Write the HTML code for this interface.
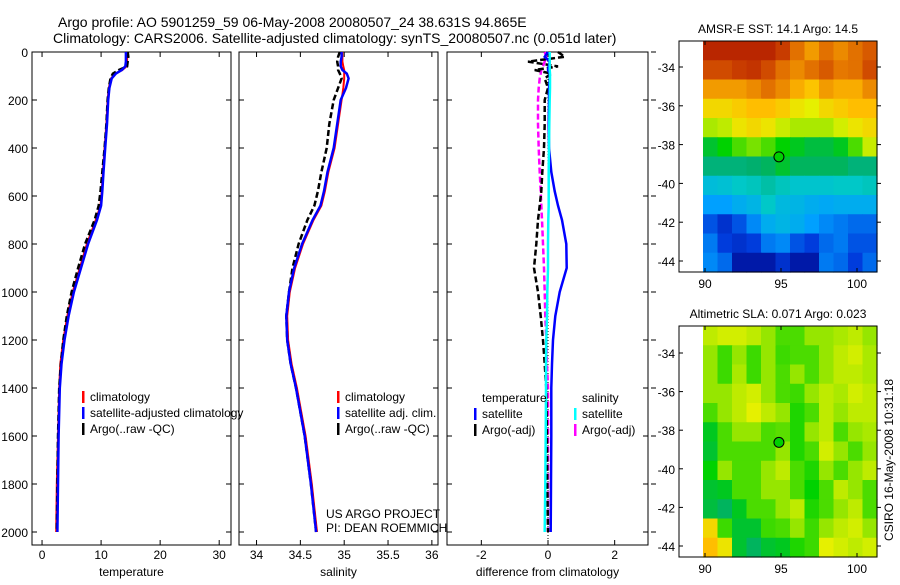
<!DOCTYPE html>
<html><head><meta charset="utf-8"><style>
body{margin:0;background:#fff;}
svg text{font-family:"Liberation Sans",sans-serif;}
</style></head><body>
<svg id="fig" width="900" height="580" viewBox="0 0 900 580" xmlns="http://www.w3.org/2000/svg">
<rect width="900" height="580" fill="#fff"/>
<text x="58" y="27" font-size="14">Argo profile: AO 5901259_59 06-May-2008 20080507_24 38.631S 94.865E</text>
<text x="53" y="43" font-size="14">Climatology: CARS2006. Satellite-adjusted climatology: synTS_20080507.nc (0.051d later)</text>
<g id="plots"></g>
<text transform="translate(893,460) rotate(-90)" font-size="12" text-anchor="middle">CSIRO 16-May-2008 10:31:18</text>
</svg>
<script>
// ---- profile data ----
const depths = [0,20,40,60,75,90,110,150,200,300,400,500,580,640,700,800,900,1000,1100,1200,1300,1400,1600,1800,2000];
const tempSat = [14.2,14.2,14.2,14.1,13.5,12.5,11.8,11.4,11.2,11.0,10.7,10.4,10.2,10.0,9.3,7.8,6.6,5.4,4.5,3.8,3.3,3.0,2.8,2.7,2.6];
const tempClim = [14.4,14.4,14.4,14.3,13.6,12.4,11.7,11.3,11.1,10.9,10.6,10.3,10.1,9.9,9.1,7.6,6.4,5.2,4.3,3.6,3.1,2.9,2.7,2.5,2.4];
const tempArgo = [14.5,14.6,14.5,14.4,13.0,12.0,11.6,11.3,11.1,10.9,10.6,10.2,9.9,9.6,8.9,7.3,6.1,5.0,4.2,3.6,3.2,2.9,2.7,2.6,2.5];
const salSat = [34.97,34.97,34.96,34.96,34.98,35.03,35.05,35.02,34.96,34.92,34.88,34.81,34.77,34.73,34.64,34.52,34.43,34.37,34.34,34.35,34.39,34.45,34.55,34.62,34.68];
const salClim = [34.98,34.98,34.98,34.99,35.0,35.0,35.0,34.99,34.97,34.93,34.89,34.82,34.78,34.74,34.65,34.53,34.44,34.38,34.35,34.36,34.40,34.46,34.56,34.63,34.69];
const salArgo = [34.95,34.93,34.92,34.93,34.93,34.95,34.97,34.93,34.88,34.83,34.80,34.74,34.70,34.66,34.58,34.48,34.41,34.37,34.34,34.35,34.39,34.45,34.55,34.62,34.68];
const dTempSat = [0.0,-0.1,0.05,0.02,0.0,0.05,0.05,0.03,0.03,0.02,0.03,0.1,0.2,0.3,0.42,0.55,0.56,0.35,0.22,0.15,0.12,0.1,0.1,0.09,0.08];
const dTempArgo = [0.3,0.5,-0.6,0.3,-0.4,0.1,-0.1,0.0,-0.1,-0.1,-0.12,-0.17,-0.2,-0.25,-0.3,-0.35,-0.42,-0.3,-0.22,-0.15,-0.1,-0.05,-0.03,-0.02,0.0];
const dSalSat = [0.05,0.05,0.05,0.05,0.05,0.06,0.06,0.06,0.05,0.04,0.03,0.02,0.02,0.02,0.01,0.0,0.0,-0.02,-0.03,-0.05,-0.06,-0.06,-0.07,-0.08,-0.1];
const dSalArgo = [-0.1,-0.05,-0.1,-0.15,-0.2,-0.22,-0.25,-0.28,-0.3,-0.3,-0.28,-0.25,-0.22,-0.2,-0.18,-0.15,-0.12,-0.1,-0.08,-0.05,-0.03,0.0,0.0,0.0,0.0];
const depthTicks = [0,200,400,600,800,1000,1200,1400,1600,1800,2000];
const tempTicks = [0,10,20,30];
const salTicks = [34,34.5,35,35.5,36];
const diffTicks = [-2,0,2];
// ---- map data (color index 0..1, rows north->south) ----
const sstGrid = [
[.95,.95,.95,.95,.95,.92,.85,.8,.85,.82,.85,.88],
[.9,.9,.92,.93,.9,.85,.82,.85,.88,.84,.85,.9],
[.8,.8,.8,.82,.85,.82,.78,.75,.8,.78,.78,.82],
[.72,.72,.74,.76,.76,.74,.7,.68,.72,.74,.76,.76],
[.62,.64,.7,.72,.7,.65,.62,.62,.62,.66,.7,.72],
[.47,.5,.55,.58,.55,.5,.48,.46,.46,.48,.55,.65],
[.42,.42,.42,.43,.44,.47,.44,.44,.44,.44,.42,.42],
[.32,.33,.35,.36,.38,.36,.34,.34,.34,.35,.35,.36],
[.25,.25,.28,.3,.35,.31,.3,.28,.27,.28,.28,.28],
[.15,.1,.15,.22,.28,.3,.28,.25,.22,.2,.18,.18],
[.2,.12,.1,.12,.2,.22,.15,.12,.18,.2,.15,.15],
[.22,.18,.05,.05,.05,.1,.05,.05,.2,.18,.12,.18]];
const slaGrid = [
[.64,.66,.66,.64,.6,.55,.55,.6,.6,.62,.64,.6],
[.6,.54,.6,.54,.6,.54,.55,.55,.6,.64,.66,.62],
[.6,.54,.62,.54,.6,.55,.6,.55,.6,.64,.64,.62],
[.6,.6,.64,.66,.6,.55,.54,.6,.64,.62,.66,.64],
[.55,.6,.64,.68,.64,.6,.52,.55,.64,.6,.64,.64],
[.48,.55,.6,.6,.55,.56,.52,.6,.64,.55,.6,.62],
[.47,.55,.55,.55,.55,.6,.52,.55,.66,.6,.55,.6],
[.5,.6,.55,.55,.6,.64,.55,.52,.6,.55,.6,.64],
[.47,.48,.55,.55,.6,.6,.55,.5,.55,.64,.6,.55],
[.46,.44,.48,.55,.55,.6,.64,.52,.55,.6,.64,.55],
[.72,.54,.47,.47,.54,.55,.6,.54,.6,.64,.66,.6],
[.76,.7,.47,.44,.47,.48,.52,.54,.68,.66,.64,.66]];
const lonTicks = [90,95,100];
const latTicks = [-34,-36,-38,-40,-42,-44];
const argoLon = 94.865, argoLat = -38.631;

const NS='http://www.w3.org/2000/svg';
const root=document.getElementById('plots');
function mk(tag,attrs,parent){const e=document.createElementNS(NS,tag);for(const k in attrs)e.setAttribute(k,attrs[k]);(parent||root).appendChild(e);return e;}
const yD=d=>52+d*0.24;

function panel(name,x0,x1,vmin,vmax,ticks,xlabel,showY){
  const g=mk('g',{});
  
  
  const sx=v=>x0+(v-vmin)/(vmax-vmin)*(x1-x0);
  mk('rect',{x:x0,y:52,width:x1-x0,height:493,fill:'none',stroke:'#000','stroke-width':1},g);
  depthTicks.forEach(d=>{
    mk('line',{x1:x0,x2:x0+5,y1:yD(d),y2:yD(d),stroke:'#000'},g);
    mk('line',{x1:x1,x2:x1-5,y1:yD(d),y2:yD(d),stroke:'#000'},g);
    if(showY){const t=mk('text',{x:x0-4,y:yD(d)+5,'font-size':12,'text-anchor':'end'},g);t.textContent=d;
      
      }
  });
  ticks.forEach(v=>{
    mk('line',{x1:sx(v),x2:sx(v),y1:545,y2:540,stroke:'#000'},g);
    mk('line',{x1:sx(v),x2:sx(v),y1:52,y2:57,stroke:'#000'},g);
    const t=mk('text',{x:sx(v),y:559,'font-size':12,'text-anchor':'middle'},g);t.textContent=v;
    
    
  });
  const xl=mk('text',{x:(x0+x1)/2,y:576,'font-size':12,'text-anchor':'middle'},g);xl.textContent=xlabel;
  
  
  return {g,sx};
}
function series(p,vals,color,dash,w,name){
  const pts=vals.map((v,i)=>p.sx(v).toFixed(1)+','+yD(depths[i]).toFixed(1)).join(' ');
  const l=mk('polyline',{points:pts,fill:'none',stroke:color,'stroke-width':w,'stroke-dasharray':dash||'none'},p.g);
  
  
}
function legend(g,x,y,items){
  items.forEach((it,i)=>{
    if(it[1]) mk('rect',{x:x,y:y+i*16-10,width:2.5,height:12,fill:it[1]},g);
    const t=mk('text',{x:x+8,y:y+i*16,'font-size':12},g);t.textContent=it[0];
    
    
  });
}
const p1=panel('temperature-panel',32,231,-1.7,32,tempTicks,'temperature',true);
series(p1,tempClim,'#f00',null,2,'temp-climatology-line');
series(p1,tempArgo,'#000','6,3',2.5,'temp-argo-line');
series(p1,tempSat,'#00f',null,2.5,'temp-satellite-line');
legend(p1.g,82,401,[['climatology','#f00'],['satellite-adjusted climatology','#00f'],['Argo(..raw -QC)','#000']]);

const p2=panel('salinity-panel',239,438,33.8,36.07,salTicks,'salinity',false);
series(p2,salClim,'#f00',null,2,'sal-climatology-line');
series(p2,salArgo,'#000','6,3',2.5,'sal-argo-line');
series(p2,salSat,'#00f',null,2.5,'sal-satellite-line');
legend(p2.g,337,401,[['climatology','#f00'],['satellite adj. clim.','#00f'],['Argo(..raw -QC)','#000']]);
const c1=mk('text',{x:326,y:518,'font-size':12},p2.g);c1.textContent='US ARGO PROJECT';


const c2=mk('text',{x:326,y:532,'font-size':12},p2.g);c2.textContent='PI: DEAN ROEMMICH';



const p3=panel('difference-panel',447,648,-3.03,3.0,diffTicks,'difference from climatology',false);
mk('line',{x1:p3.sx(0),x2:p3.sx(0),y1:52,y2:545,stroke:'#000','stroke-dasharray':'1,2'},p3.g);
series(p3,dSalArgo,'#f0f','6,3',2.5,'diff-sal-argo-line');
series(p3,dTempArgo,'#000','6,3',2.5,'diff-temp-argo-line');
series(p3,dTempSat,'#00f',null,2.5,'diff-temp-satellite-line');
series(p3,dSalSat,'#0ff',null,2.5,'diff-sal-satellite-line');
legend(p3.g,474,402,[['temperature',null],['satellite','#00f'],['Argo(-adj)','#000']]);
legend(p3.g,574,402,[['salinity',null],['satellite','#0ff'],['Argo(-adj)','#f0f']]);
depthTicks.forEach(d=>mk('line',{x1:651,x2:656,y1:yD(d),y2:yD(d),stroke:'#000'},p3.g));

// colormap
const stops=[[0,[0,0,130]],[.12,[0,60,220]],[.25,[0,160,255]],[.35,[0,200,200]],[.43,[0,175,110]],[.5,[0,210,0]],[.6,[150,230,0]],[.68,[230,240,0]],[.76,[255,190,0]],[.84,[230,120,0]],[.92,[200,60,0]],[1,[160,0,0]]];
function cmap(v){for(let i=1;i<stops.length;i++){if(v<=stops[i][0]){const a=stops[i-1],b=stops[i],t=(v-a[0])/(b[0]-a[0]);return 'rgb('+a[1].map((c,k)=>Math.round(c+(b[1][k]-c)*t)).join(',')+')';}}return 'rgb(160,0,0)';}

function map(name,title,grid,y0,y1,latY0,latScale){
  const g=mk('g',{});
  
  
  const bx0=679,bx1=877,ix0=703;
  const lx=lon=>705+(lon-90)*15.2;
  const ly=lat=>latY0+(-34-lat)*latScale;
  const rows=grid.length,cols=grid[0].length,cw=(bx1-ix0)/cols,ch=(y1-y0)/rows;
  grid.forEach((row,r)=>row.forEach((v,c)=>{
    const cell=mk('rect',{x:(ix0+c*cw).toFixed(2),y:(y0+r*ch).toFixed(2),width:(cw+0.6).toFixed(2),height:(ch+0.6).toFixed(2),fill:cmap(v)},g);
    
    
  }));
  mk('rect',{x:bx0,y:y0,width:bx1-bx0,height:y1-y0,fill:'none',stroke:'#000'},g);
  latTicks.forEach(l=>{
    mk('line',{x1:bx0,x2:bx0+4,y1:ly(l),y2:ly(l),stroke:'#000'},g);
    mk('line',{x1:bx1,x2:bx1+4,y1:ly(l),y2:ly(l),stroke:'#000'},g);
    const t=mk('text',{x:bx0-4,y:ly(l)+5,'font-size':12,'text-anchor':'end'},g);t.textContent=l;
    
    
  });
  lonTicks.forEach(l=>{
    mk('line',{x1:lx(l),x2:lx(l),y1:y1,y2:y1-4,stroke:'#000'},g);
    mk('line',{x1:lx(l),x2:lx(l),y1:y0,y2:y0+4,stroke:'#000'},g);
    const t=mk('text',{x:lx(l),y:y1+16,'font-size':12,'text-anchor':'middle'},g);t.textContent=l;
    
    
  });
  const tt=mk('text',{x:(bx0+bx1)/2,y:y0-8,'font-size':12,'text-anchor':'middle'},g);tt.textContent=title;
  
  
  const m=mk('circle',{cx:lx(argoLon),cy:ly(argoLat),r:5,fill:'#00d000',stroke:'#000'},g);
  
  
}
map('sst-map','AMSR-E SST: 14.1 Argo: 14.5',sstGrid,41,272,67,19.4);
map('sla-map','Altimetric SLA: 0.071 Argo: 0.023',slaGrid,326,557,353,19.3);
</script>
</body></html>
